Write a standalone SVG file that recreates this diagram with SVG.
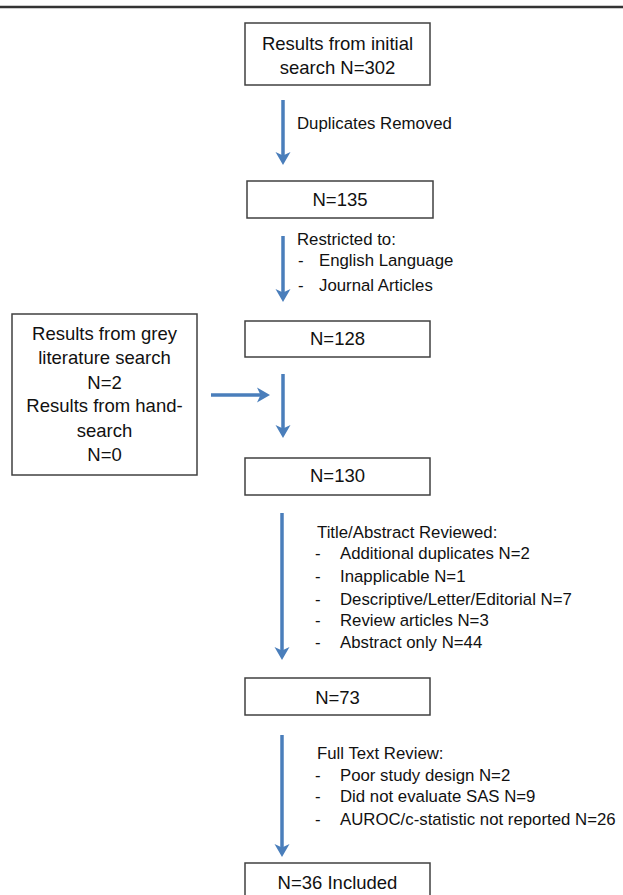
<svg xmlns="http://www.w3.org/2000/svg" width="623" height="895" viewBox="0 0 623 895">
<defs>
<marker id="ah" markerUnits="userSpaceOnUse" markerWidth="16" markerHeight="17" refX="5" refY="8" orient="auto">
<path d="M0,0.5 L13,8 L0,15.5 L3.5,8 Z" fill="#4A7EBB"/>
</marker>
<style>
.box{fill:#fff;stroke:#404040;stroke-width:1.5}
.bt{font-family:"Liberation Sans",Arial,sans-serif;font-size:18.5px;fill:#111;text-anchor:middle}
.lt{font-family:"Liberation Sans",Arial,sans-serif;font-size:16.8px;fill:#111}
.arr{stroke:#4A7EBB;stroke-width:3.5;fill:none;marker-end:url(#ah)}
</style>
</defs>
<rect width="623" height="895" fill="#fff"/>
<line x1="0" y1="7" x2="623" y2="7" stroke="#333" stroke-width="2.5"/>

<g id="n1">
<rect class="box" x="245" y="23" width="185" height="62"/>
<text class="bt" x="337.5" y="49.5">Results from initial</text>
<text class="bt" x="337.5" y="73.5">search N=302</text>
</g>
<g id="n2">
<rect class="box" x="247" y="181" width="186" height="37"/>
<text class="bt" x="340" y="205.5">N=135</text>
</g>
<g id="n3">
<rect class="box" x="245" y="321" width="185" height="36"/>
<text class="bt" x="337.5" y="344.5">N=128</text>
</g>
<g id="n-grey">
<rect class="box" x="12" y="314" width="185" height="161"/>
<text class="bt" x="104.5" y="339.5">Results from grey</text>
<text class="bt" x="104.5" y="364">literature search</text>
<text class="bt" x="104.5" y="388.5">N=2</text>
<text class="bt" x="104.5" y="412">Results from hand-</text>
<text class="bt" x="104.5" y="437">search</text>
<text class="bt" x="104.5" y="461">N=0</text>
</g>
<g id="n4">
<rect class="box" x="245" y="458" width="185" height="37"/>
<text class="bt" x="337.5" y="481.5">N=130</text>
</g>
<g id="n5">
<rect class="box" x="245" y="678" width="185" height="37"/>
<text class="bt" x="337.5" y="703.5">N=73</text>
</g>
<g id="n6">
<rect class="box" x="245" y="863" width="185" height="45"/>
<text class="bt" x="337.5" y="888.5">N=36 Included</text>
</g>

<g id="connectors">
<line class="arr" x1="283" y1="100" x2="283" y2="157"/>
<line class="arr" x1="283" y1="236" x2="283" y2="294"/>
<line class="arr" x1="283" y1="374" x2="283" y2="430"/>
<line class="arr" x1="211" y1="395" x2="262" y2="395"/>
<line class="arr" x1="282" y1="513" x2="282" y2="652"/>
<line class="arr" x1="282" y1="735" x2="282" y2="849"/>
</g>

<g id="labels">
<text class="lt" x="297" y="129">Duplicates Removed</text>
<text class="lt" x="297" y="245">Restricted to:</text>
<text class="lt" x="298" y="266">-</text>
<text class="lt" x="319" y="266">English Language</text>
<text class="lt" x="298" y="291">-</text>
<text class="lt" x="319" y="291">Journal Articles</text>

<text class="lt" x="317" y="538">Title/Abstract Reviewed:</text>
<text class="lt" x="315" y="559">-</text>
<text class="lt" x="340" y="559">Additional duplicates N=2</text>
<text class="lt" x="315" y="582">-</text>
<text class="lt" x="340" y="582">Inapplicable N=1</text>
<text class="lt" x="315" y="605">-</text>
<text class="lt" x="340" y="605">Descriptive/Letter/Editorial N=7</text>
<text class="lt" x="315" y="626">-</text>
<text class="lt" x="340" y="626">Review articles N=3</text>
<text class="lt" x="315" y="648">-</text>
<text class="lt" x="340" y="648">Abstract only N=44</text>

<text class="lt" x="317" y="759">Full Text Review:</text>
<text class="lt" x="315" y="781">-</text>
<text class="lt" x="340" y="781">Poor study design N=2</text>
<text class="lt" x="315" y="802">-</text>
<text class="lt" x="340" y="802">Did not evaluate SAS N=9</text>
<text class="lt" x="315" y="825">-</text>
<text class="lt" x="340" y="825">AUROC/c-statistic not reported N=26</text>
</g>
</svg>
